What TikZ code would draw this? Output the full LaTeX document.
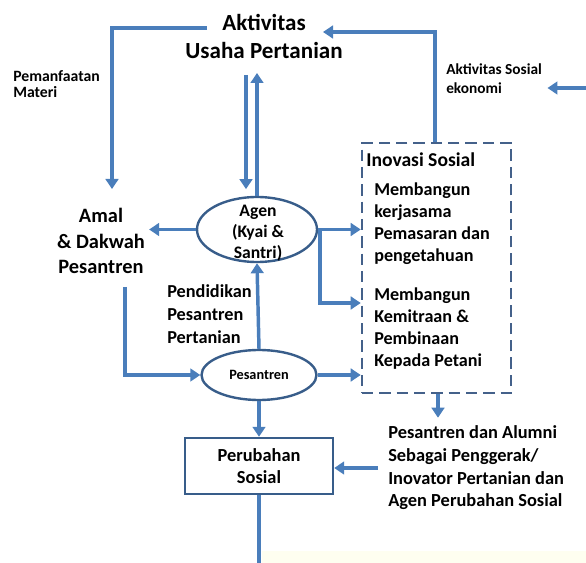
\documentclass[tikz,border=0pt]{standalone}
\usepackage{fontspec}
\setmainfont{Carlito}
\usetikzlibrary{arrows.meta,shapes.geometric}
\definecolor{flowblue}{HTML}{4A7EBB}
\definecolor{edgeblue}{HTML}{385D8A}
\definecolor{dashblue}{HTML}{44618A}
\definecolor{paleyellow}{HTML}{FEFEF0}

\begin{document}
\begin{tikzpicture}[
    x=0.75pt, y=-0.75pt,
    txt/.style={inner sep=0pt, align=center},
    oval/.style={ellipse, draw=edgeblue, line width=1.8pt, inner sep=0pt},
    box/.style={rectangle, draw=edgeblue, line width=1.8pt, inner sep=0pt, align=center},
    dbox/.style={rectangle, draw=dashblue, line width=1.9pt, dash pattern=on 8.5pt off 4.5pt, inner sep=0pt},
    arrow/.style={-{Triangle[length=7.5pt,width=9.5pt]}, line width=2.6pt, draw=flowblue}
]
    \useasboundingbox (0,0) rectangle (586,563);
    \fill[paleyellow] (262,551) rectangle (586,563);

    % Top row
    \node[txt, font=\fontsize{17.3}{21}\selectfont\bfseries] (title) at (264,36) {Aktivitas\\Usaha Pertanian};
    \node[txt, align=left, anchor=west, font=\fontsize{11.8}{12.5}\selectfont\bfseries] (pemanf) at (13,84) {Pemanfaatan\\Materi};
    \node[txt, align=left, anchor=west, font=\fontsize{11.5}{14.3}\selectfont\bfseries] (sosek) at (446,79) {Aktivitas Sosial\\ekonomi};

    % Middle row
    \node[txt, font=\fontsize{15.3}{19}\selectfont\bfseries] (amal) at (101,241) {Amal\\\& Dakwah\\Pesantren};
    \node[oval, minimum width=90pt, minimum height=48.75pt] (agen) at (257,229.5) {};
    \node[txt, font=\fontsize{13.2}{16}\selectfont\bfseries] (agenlbl) at (258,233) {Agen\\(Kyai \&\\Santri)};
    \node[txt, align=left, anchor=west, font=\fontsize{13.7}{17}\selectfont\bfseries] (didik) at (167,314) {Pendidikan\\Pesantren\\Pertanian};

    % Inovasi sosial
    \node[dbox, minimum width=111.75pt, minimum height=187.5pt] (inov) at (436.5,268) {};
    \node[txt, anchor=base west, font=\fontsize{14.7}{17}\selectfont\bfseries] (inovlbl) at (366,167) {Inovasi Sosial};
    \node[txt, align=left, anchor=west, font=\fontsize{13.6}{16.5}\selectfont\bfseries] (kerja) at (374,224) {Membangun\\kerjasama\\Pemasaran dan\\pengetahuan};
    \node[txt, align=left, anchor=west, font=\fontsize{13.6}{16.5}\selectfont\bfseries] (mitra) at (374,329) {Membangun\\Kemitraan \&\\Pembinaan\\Kepada Petani};

    % Bottom row
    \node[oval, minimum width=86.25pt, minimum height=37.5pt, font=\fontsize{10.7}{12}\selectfont\bfseries] (pes) at (259,375) {Pesantren};
    \node[box, minimum width=111pt, minimum height=42pt, font=\fontsize{13.8}{17}\selectfont\bfseries] (perub) at (259,466) {Perubahan\\Sosial};
    \node[txt, align=left, anchor=west, font=\fontsize{13.8}{17}\selectfont\bfseries] (alumni) at (388,468) {Pesantren dan Alumni\\Sebagai Penggerak/\\Inovator Pertanian dan\\Agen Perubahan Sosial};

    % Free ends
    \coordinate (ttl-l) at (207,28);
    \coordinate (ttl-r) at (323,32);
    \coordinate (ttl-d) at (246,75);
    \coordinate (ttl-u) at (257,73);
    \coordinate (amal-n) at (112,189);
    \coordinate (amal-s) at (125,287);
    \coordinate (right-in) at (586,88);
    \coordinate (fork) at (320,303);
    \coordinate (bottom) at (259,563);

    % Arrows
    \draw[arrow] (ttl-l) -| (amal-n);
    \draw[arrow, shorten >=5pt] (ttl-d) -- (ttl-d |- agen.north);
    \draw[arrow] (agen.north -| ttl-u) -- (ttl-u);
    \draw[arrow] (inov.north -| 435,0) |- (ttl-r);
    \draw[arrow] (right-in) -- ([xshift=4pt]sosek.east |- right-in);
    \draw[arrow, shorten >=3pt] (agen.west) -- (agen.west -| amal.east);
    \draw[arrow] (agen.east) -- (agen.east -| inov.west);
    \draw[arrow] (agen.east) -| (fork) -- (fork -| inov.west);
    \draw[arrow] (pes.north) -- (agen.south);
    \draw[arrow] (amal-s) |- (pes.west);
    \draw[arrow] (pes.east) -- (pes.east -| inov.west);
    \draw[arrow] (pes.south) -- (perub.north);
    \draw[arrow, shorten >=6pt] (inov.south -| 438,0) -- (438,0 |- alumni.north);
    \draw[arrow, shorten <=7.5pt] (alumni.west) -- (alumni.west -| perub.east);
    \draw[line width=2.6pt, flowblue] (perub.south) -- (bottom);
\end{tikzpicture}
\end{document}
